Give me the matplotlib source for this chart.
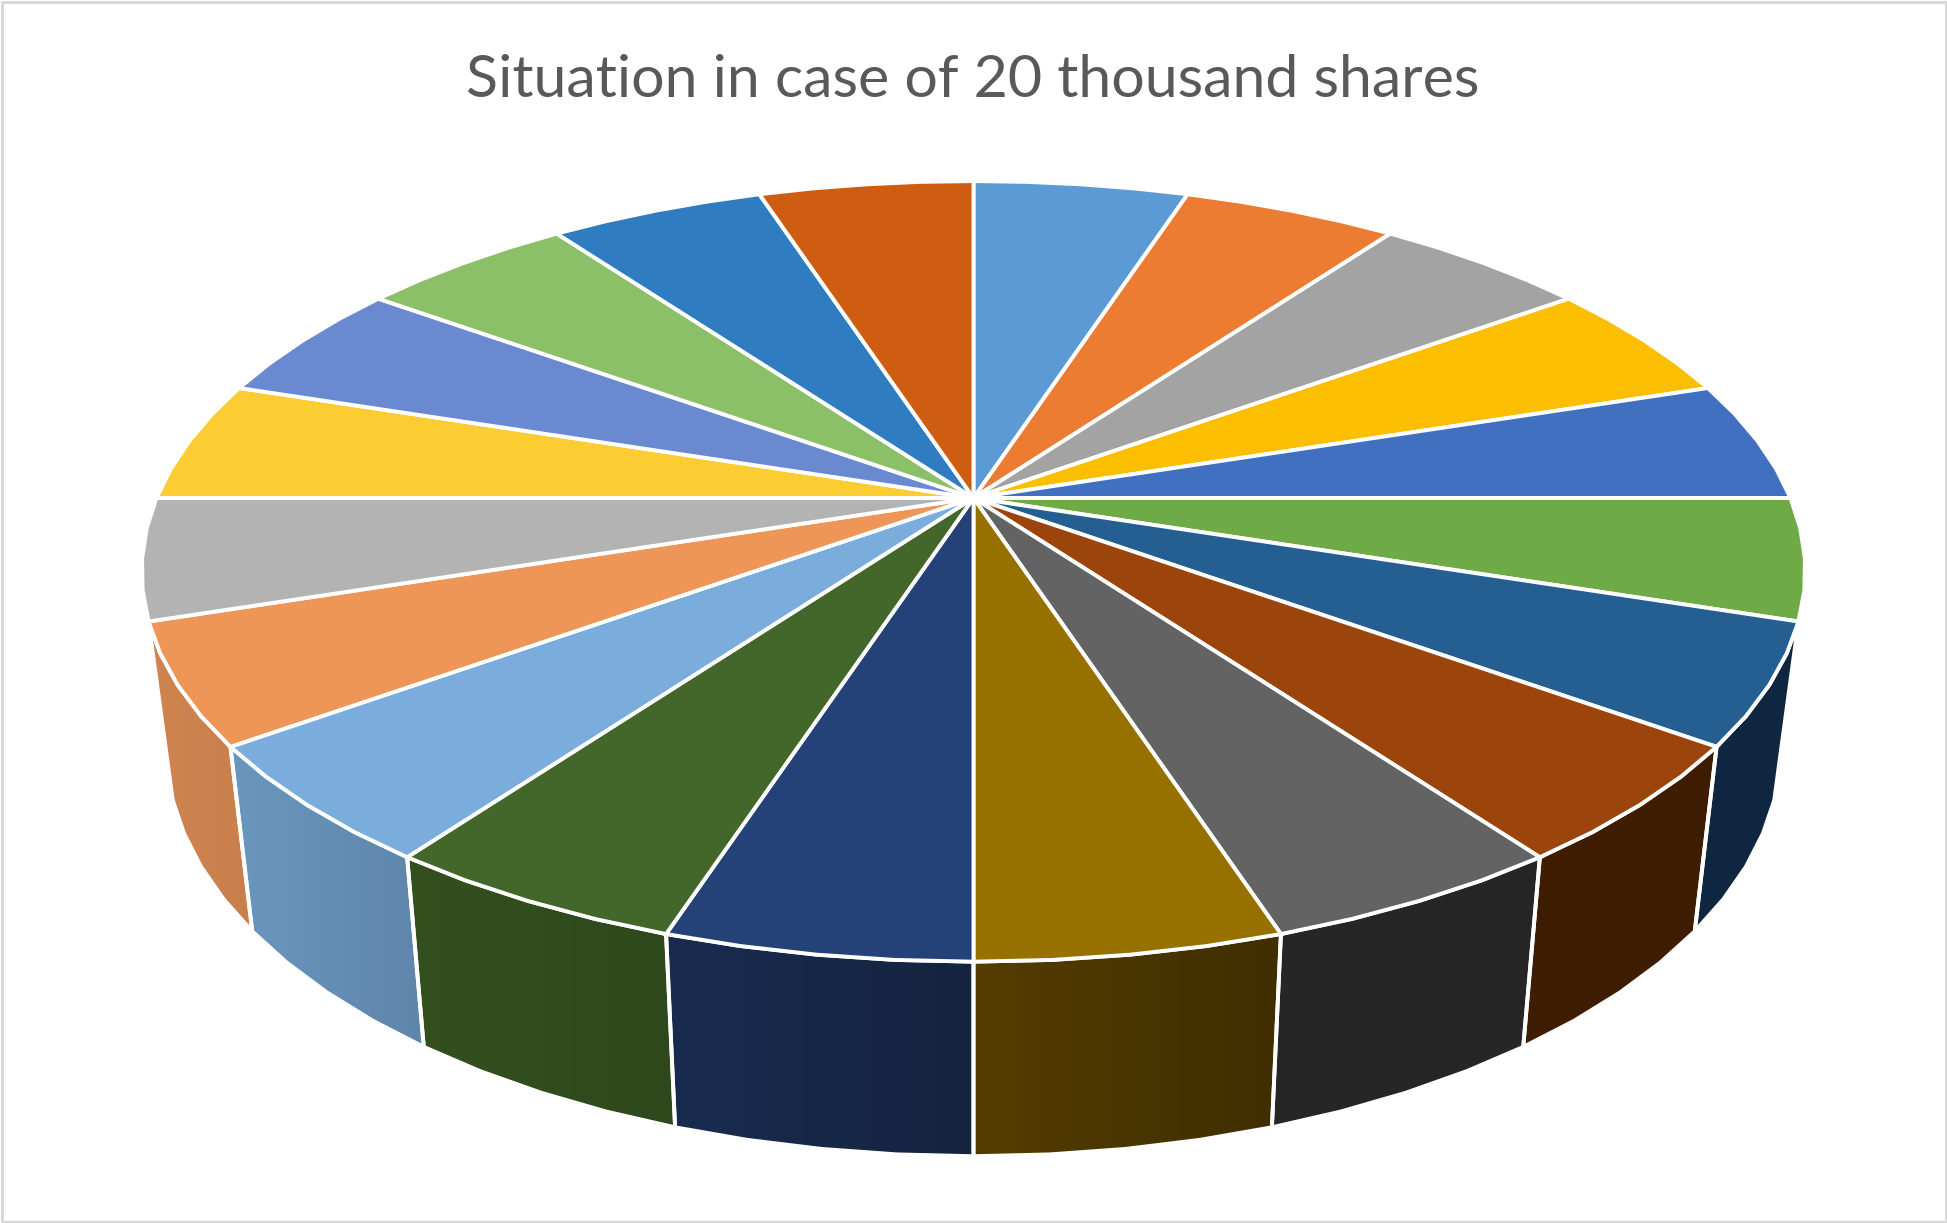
import numpy as np
import matplotlib
matplotlib.use("Agg")
import matplotlib.pyplot as plt
from matplotlib.patches import Polygon, Rectangle
from matplotlib.colors import LinearSegmentedColormap

TITLE = "Situation in case of 20 thousand shares"
shares = [5] * 20
top_colors = ["#5B9AD5", "#EB7C31", "#A3A3A3", "#FBBE00", "#4270C1", "#6EAB46", "#255E91",
              "#9B450D", "#636363", "#967100", "#244277", "#43662A", "#7AADDC", "#EE9558",
              "#B3B3B3", "#FCCD32", "#698AD0", "#8BC068", "#307CC1", "#CF5D11"]
# wall shading per visible slice: index -> (screen-left colour, screen-right colour)
wall_colors = {6: ("#0F2640", "#0F2640"), 7: ("#3E1D03", "#3E1D03"), 8: ("#262626", "#262626"),
               9: ("#553D00", "#3F2E00"), 10: ("#192C50", "#15233F"), 11: ("#34501F", "#2E481C"),
               12: ("#6A97BF", "#5F85AA"), 13: ("#D08550", "#C87F4C")}

W, H = 1947, 1223
fig = plt.figure(figsize=(W / 100, H / 100), dpi=100)
ax = fig.add_axes([0, 0, 1, 1])
ax.set_xlim(0, W)
ax.set_ylim(H, 0)
ax.axis("off")


def project(deg, cx, cy, a, b, k=0.188):
    t = np.radians(deg)
    x, y = np.sin(t), np.cos(t)
    d = 1 + k * y
    return np.column_stack([cx + a * x / d, cy - b * y / d])


def top(deg):
    return project(deg, 973.5, 498, 817, 376.5)


def bottom(deg):
    return project(deg, 973.5, 671, 793, 394)


edges = np.concatenate([[0], np.cumsum(shares)]) / np.sum(shares) * 360
LW = 2.8

# walls
for i, (cl, cr) in wall_colors.items():
    arc = np.linspace(edges[i], edges[i + 1], 5)
    pts = np.vstack([top(arc), bottom(arc[::-1])])
    x0, x1 = pts[:, 0].min(), pts[:, 0].max()
    y0, y1 = pts[:, 1].min(), pts[:, 1].max()
    cmap = LinearSegmentedColormap.from_list("w", [cl, cr])
    im = ax.imshow(np.linspace(0, 1, 256)[None, :], cmap=cmap, extent=[x0, x1, y1, y0],
                   aspect="auto", zorder=1, interpolation="bilinear")
    poly = Polygon(pts, closed=True, fc="none", ec="white", lw=LW, zorder=2, joinstyle="miter")
    ax.add_patch(poly)
    im.set_clip_path(poly)

# top face
hub = project(0, 973.5, 498, 0, 0)[0]
for i, c in enumerate(top_colors):
    arc = np.linspace(edges[i], edges[i + 1], 5)
    pts = np.vstack([[hub], top(arc)])
    ax.add_patch(Polygon(pts, closed=True, fc=c, ec="white", lw=LW, zorder=3, joinstyle="miter"))

ax.set_xlim(0, W)
ax.set_ylim(H, 0)
ax.text(973, 97, TITLE, ha="center", va="baseline", family="Lato", fontsize=42.6, color="#595959", zorder=5)
ax.add_patch(Rectangle((1.5, 1.5), W - 3, H - 3, fc="none", ec="#D9D9D9", lw=2.2, zorder=6))
fig.savefig("out.png", dpi=100, facecolor="white")
